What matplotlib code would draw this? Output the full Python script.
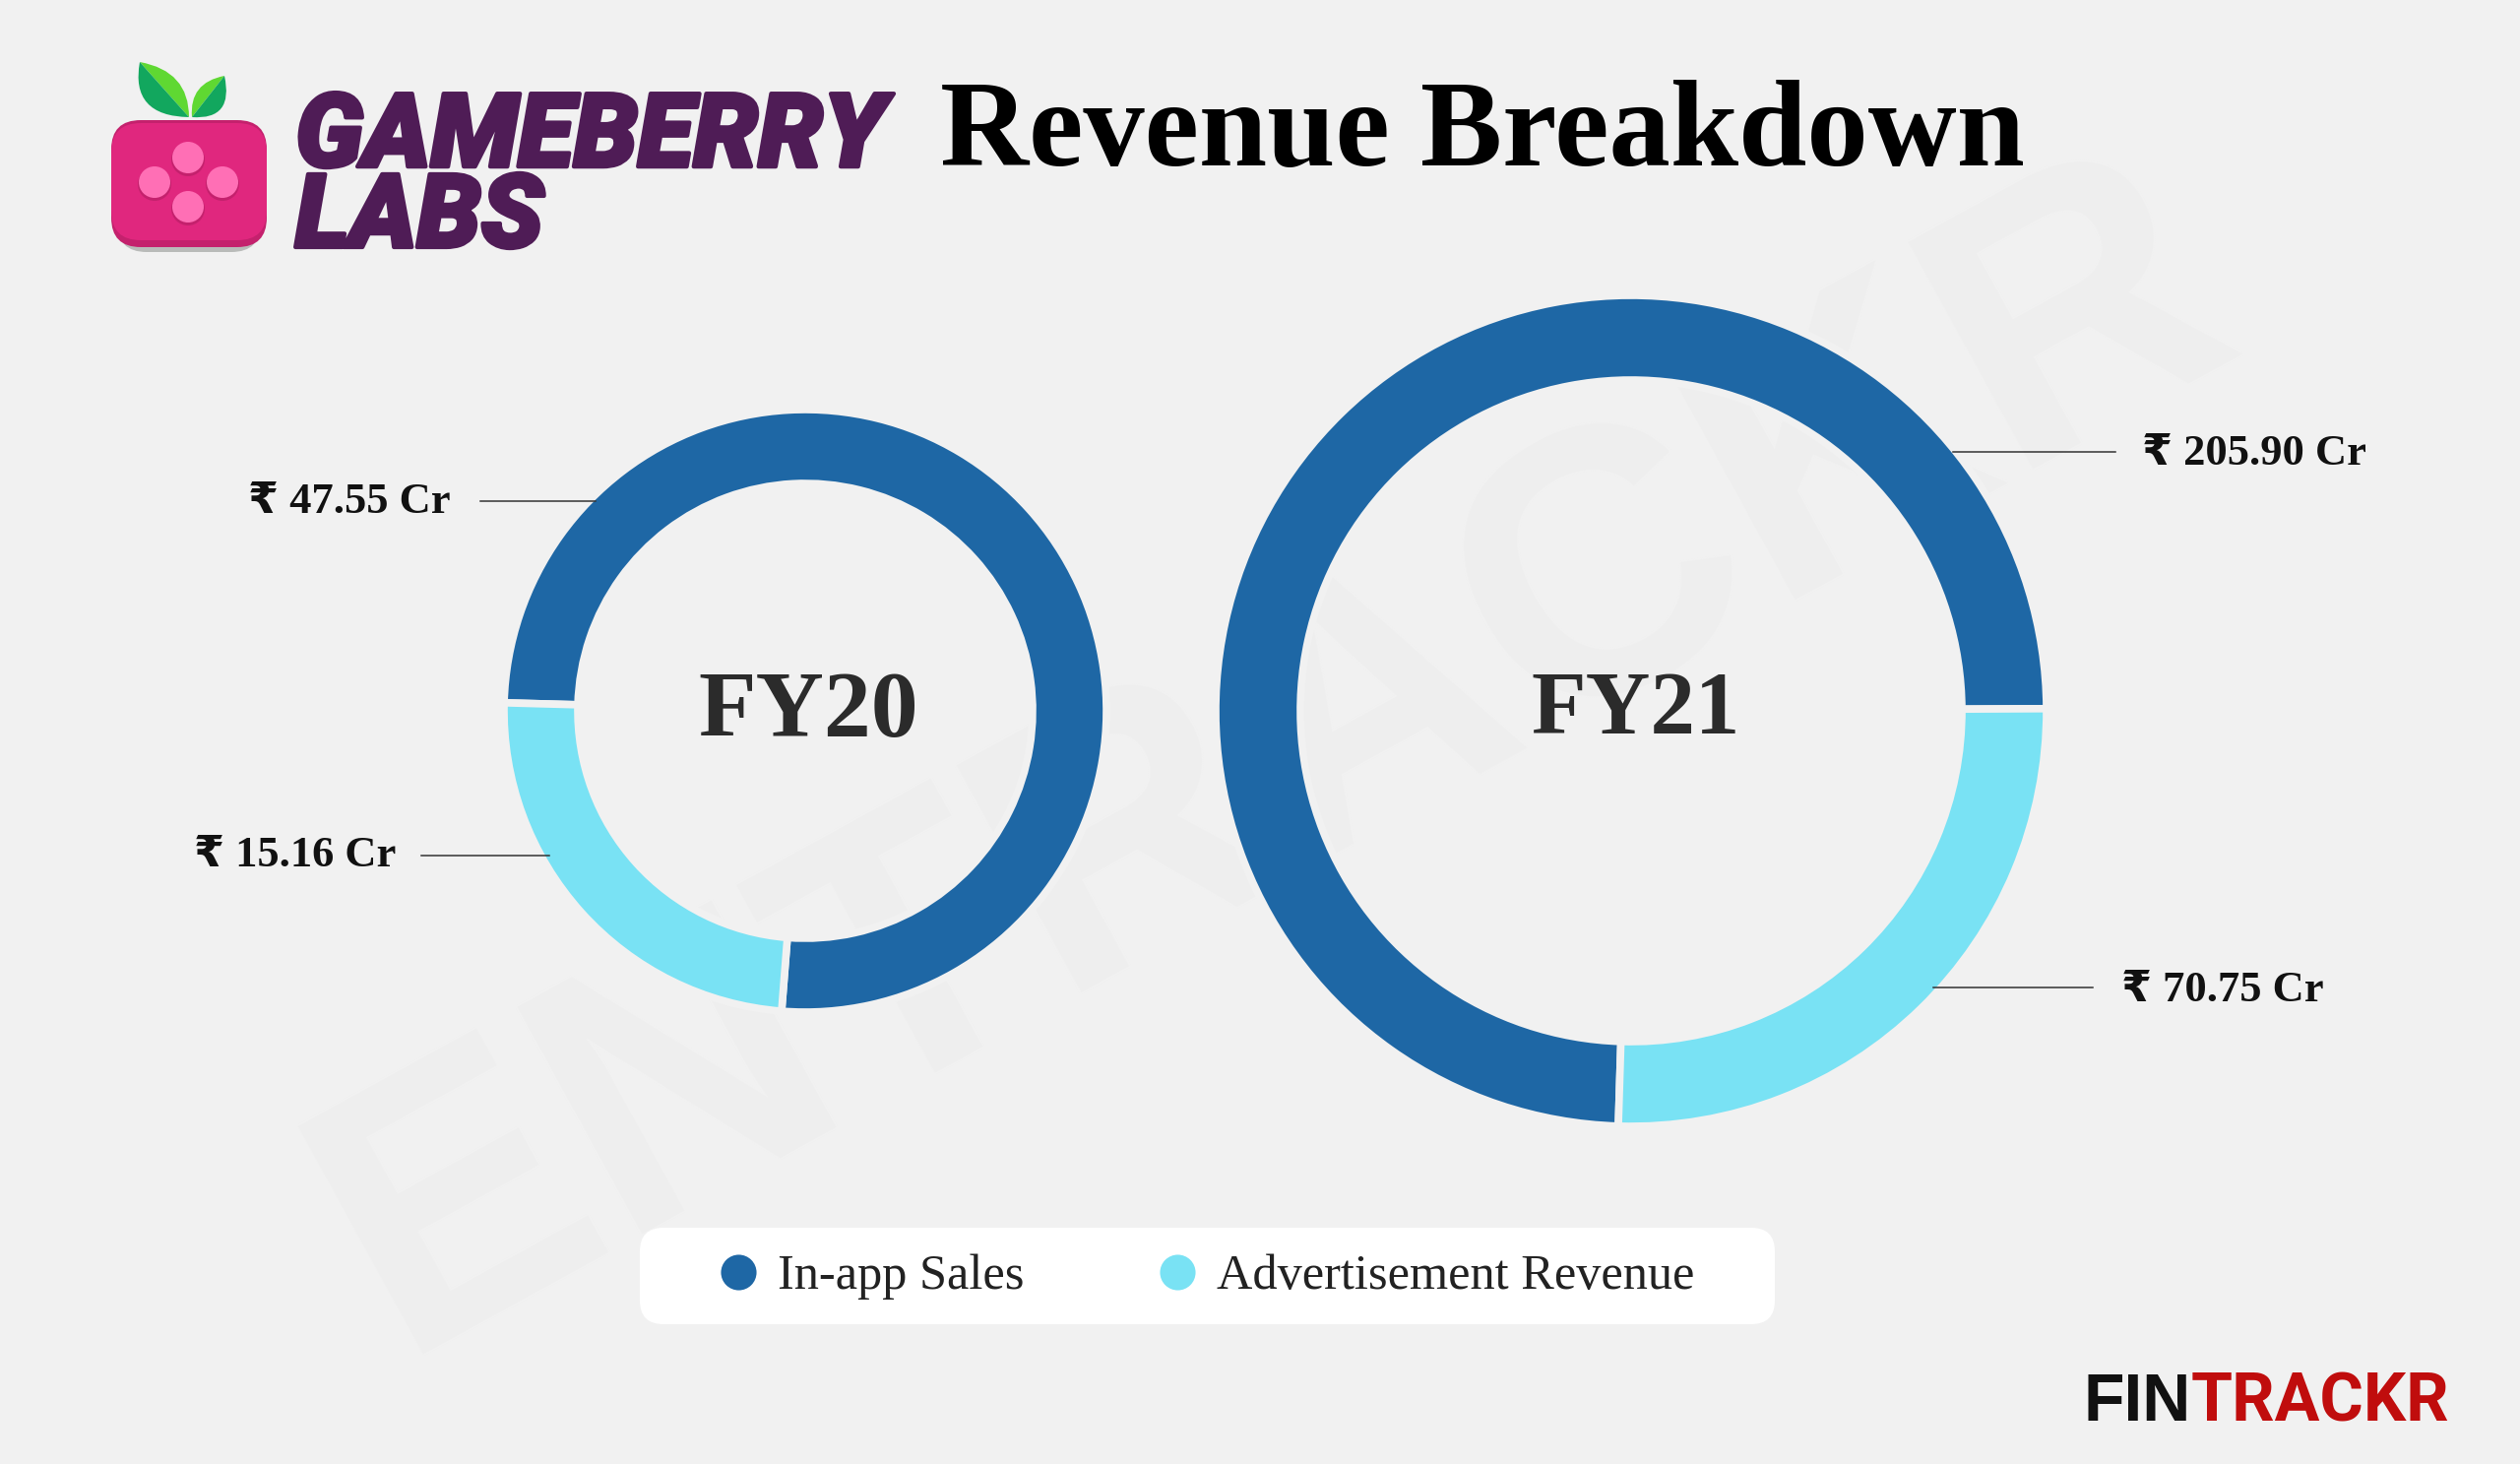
import matplotlib
matplotlib.use('Agg')
import matplotlib.pyplot as plt
import matplotlib.patheffects as pe
from matplotlib.lines import Line2D
from matplotlib.patches import Circle, FancyBboxPatch, PathPatch
from matplotlib.path import Path

W, H = 2560, 1487
BG = '#f1f1f1'
SERIF = ['Liberation Serif', 'DejaVu Sans']

# data
categories = ['In-app Sales', 'Advertisement Revenue']
colors = ['#1e67a5', '#79e2f4']
fy20_values = [47.55, 15.16]
fy21_values = [205.90, 70.75]


def axes_px(fig, cx, cy, r):
    # axes whose box is the square around a circle given in image pixels
    return fig.add_axes([(cx - r) / W, 1 - (cy + r) / H, 2 * r / W, 2 * r / H], zorder=1)


def donut(fig, cx, cy, r, ring, values, start, name, size, text_y):
    # the wedge edge eats 4px on each side, so the ring is drawn that much bigger
    r_draw = r + 4
    ax = axes_px(fig, cx, cy, r_draw)
    ax.pie(values, colors=colors, startangle=start, radius=1, counterclock=True,
           wedgeprops={'width': (ring + 8) / r_draw, 'edgecolor': BG, 'linewidth': 5.5})
    ax.set_xlim(-1, 1)
    ax.set_ylim(-1, 1)
    ax.text(0.01, text_y, name, ha='center', va='center', fontsize=size,
            fontweight='bold', family=SERIF, color='#2b2b2b')


def callout(ax, value, x0, x1, line_y, text_x, text_y, ha):
    ax.plot([x0, x1], [line_y, line_y], color='#333333', lw=1.1, zorder=3)
    ax.text(text_x, text_y, f'₹ {value:.2f} Cr', ha=ha, va='center', fontsize=32,
            fontweight='bold', family=SERIF, color='#111111', zorder=3)


def leaf(ax, tip, ctrl, end, color):
    path = Path([tip, ctrl, end, tip], [Path.MOVETO, Path.CURVE3, Path.CURVE3, Path.CLOSEPOLY])
    ax.add_patch(PathPatch(path, fc=color, ec='none'))


def pixel_axes(fig, zorder):
    ax = fig.add_axes([0, 0, 1, 1], zorder=zorder)
    ax.set_xlim(0, W)
    ax.set_ylim(H, 0)
    ax.axis('off')
    return ax


fig = plt.figure(figsize=(W / 100, H / 100), dpi=100, facecolor=BG)

base = pixel_axes(fig, 0)
top = pixel_axes(fig, 5)

# watermark
base.text(1343, 859, 'ENTRACKR', rotation=28.8, ha='center', va='baseline', fontsize=275,
          fontweight='bold', family='Liberation Sans', color='#eeeeee',
          rotation_mode='anchor')

# logo
base.add_patch(FancyBboxPatch((119, 140), 146, 116, boxstyle='round,pad=0,rounding_size=30',
                              fc='#b9bbb9', ec='none'))
base.add_patch(FancyBboxPatch((113, 122), 158, 129, boxstyle='round,pad=0,rounding_size=30',
                              fc='#c4216d', ec='none'))
base.add_patch(FancyBboxPatch((113, 125), 158, 119, boxstyle='round,pad=0,rounding_size=30',
                              fc='#e0277e', ec='none'))
for bx, by in [(191, 162), (157, 187), (226, 187), (191, 212)]:
    base.add_patch(Circle((bx, by), 17, fc='#c4216d', ec='none'))
    base.add_patch(Circle((bx, by - 2), 16, fc='#ff6fb5', ec='none'))
leaf(base, (142, 63), (192, 72), (192, 119), '#5fd832')
leaf(base, (142, 63), (132, 118), (192, 119), '#12a75e')
leaf(base, (228, 77), (192, 84), (195, 119), '#5fd832')
leaf(base, (228, 77), (238, 122), (195, 119), '#12a75e')
base.text(300, 251, 'GAMEBERRY\nLABS', fontsize=75, family='Roboto', fontweight='black',
          style='italic', color='#4f1c56', va='baseline', linespacing=0.79,
          path_effects=[pe.withStroke(linewidth=3, foreground='#4f1c56')])

# title
base.text(955, 168, 'Revenue Breakdown', fontsize=89.7, fontweight='bold', family=SERIF,
          color='black', va='baseline')

# callouts
callout(top, fy20_values[0], 488, 605, 509, 458, 510, 'right')
callout(top, fy20_values[1], 428, 558, 869, 402, 869, 'right')
callout(top, fy21_values[0], 1984, 2149, 459, 2176, 461, 'left')
callout(top, fy21_values[1], 1964, 2126, 1003, 2155, 1006, 'left')

# legend
base.add_patch(FancyBboxPatch((650, 1247), 1153, 98, boxstyle='round,pad=0,rounding_size=24',
                              fc='white', ec='none', zorder=2))
handles = [Line2D([], [], ls='none', marker='o', ms=26, mfc=c, mec='none', label=n)
           for c, n in zip(colors, categories)]
leg = base.legend(handles=handles, ncol=2, loc='center', frameon=False, handlelength=1,
                  handletextpad=0.28, columnspacing=2.6, borderpad=0, borderaxespad=0,
                  bbox_to_anchor=(1223, 1297), bbox_transform=base.transData,
                  prop={'family': 'Liberation Serif', 'size': 36.3})
leg.set_zorder(3)
for t in leg.get_texts():
    t.set_color('#222222')

# brand mark
base.text(2226, 1443, 'FIN', ha='right', va='baseline', fontsize=49, fontweight='bold',
          family='Liberation Sans', color='#111111')
base.text(2226, 1443, 'TRACKR', ha='left', va='baseline', fontsize=49, fontweight='bold',
          family='Roboto', color='#c00d0d')

donut(fig, 818, 722, 302, 67, fy20_values, 265.5, 'FY20', 69, -0.01)
donut(fig, 1657, 722, 418, 78, fy21_values, 0.3, 'FY21', 65.5, -0.002)

fig.savefig('out.png', dpi=100, facecolor=BG)
